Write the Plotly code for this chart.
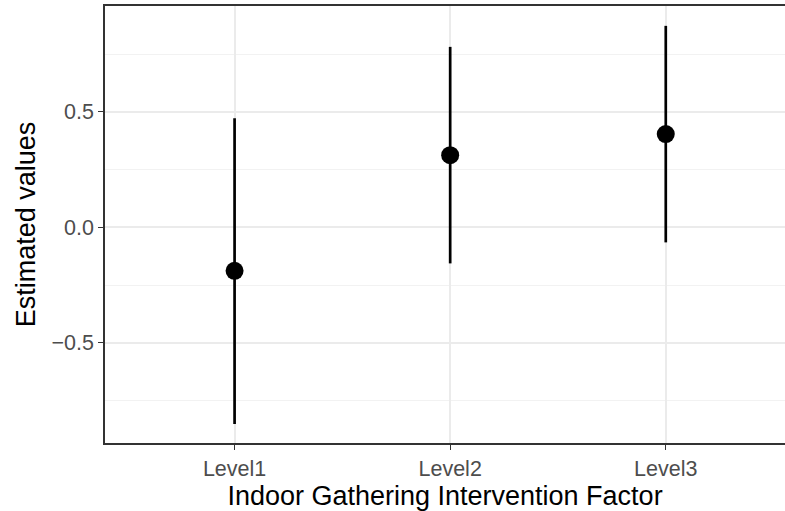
import plotly.graph_objects as go

# Estimated effects per intervention level with interval bounds
levels = ["Level1", "Level2", "Level3"]
estimate = [-0.188, 0.313, 0.404]
lower = [-0.852, -0.156, -0.065]
upper = [0.473, 0.782, 0.873]

y_ticks = [-0.5, 0.0, 0.5]
y_tick_text = ["\u22120.5", "0.0", "0.5"]

x_idx = list(range(len(levels)))
err_plus = [u - e for u, e in zip(upper, estimate)]
err_minus = [e - l for e, l in zip(estimate, lower)]

fig = go.Figure()
fig.add_trace(go.Scatter(
    x=x_idx, y=estimate, mode="markers",
    marker=dict(color="black", size=18),
    error_y=dict(type="data", symmetric=False, array=err_plus,
                 arrayminus=err_minus, color="black", thickness=2.7, width=0),
    showlegend=False, hoverinfo="skip",
))

grid_major = "#EBEBEB"
axis_col = "#333333"
fig.update_layout(
    width=785, height=511,
    margin=dict(l=105, r=0, t=6, b=68),
    paper_bgcolor="white", plot_bgcolor="white",
    font=dict(family="Liberation Sans, Arial, sans-serif", color="black"),
    xaxis=dict(
        range=[-0.601, 2.553],
        tickmode="array", tickvals=x_idx, ticktext=levels,
        tickfont=dict(size=21.5, color="#4D4D4D"),
        showgrid=True, gridcolor=grid_major, gridwidth=1.5,
        zeroline=False,
        showline=True, linecolor=axis_col, linewidth=1.6, mirror=True,
        ticks="outside", ticklen=5, tickwidth=1.4, tickcolor=axis_col,
        title=dict(text="Indoor Gathering Intervention Factor",
                   font=dict(size=27, color="black"), standoff=3),
    ),
    yaxis=dict(
        range=[-0.934, 0.959],
        tickmode="array", tickvals=y_ticks, ticktext=y_tick_text,
        tickfont=dict(size=21.5, color="#4D4D4D"),
        showgrid=True, gridcolor=grid_major, gridwidth=1.5,
        minor=dict(tickvals=[-0.75, -0.25, 0.25, 0.75], showgrid=True,
                   gridcolor="#F2F2F2", gridwidth=1),
        zeroline=False,
        showline=True, linecolor=axis_col, linewidth=1.6,
        ticks="outside", ticklen=5, tickwidth=1.4, tickcolor=axis_col,
        title=dict(text="Estimated values",
                   font=dict(size=27, color="black"), standoff=8),
    ),
)

fig.write_html("out.html")
